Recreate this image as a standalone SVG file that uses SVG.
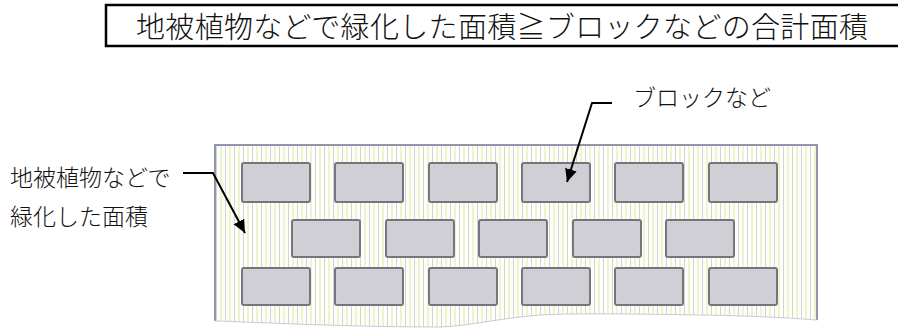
<svg xmlns="http://www.w3.org/2000/svg" width="898" height="329" viewBox="0 0 898 329">
<style>
text{font-family:"Noto Sans CJK JP","Noto Sans CJK SC",sans-serif;fill:#111;font-weight:300;}
.title{font-size:29px;}
.lbl{font-size:23px;}
.blk{fill:#cfcfd5;stroke:#74767e;stroke-width:2;}
.lead{fill:none;stroke:#000;stroke-width:2;}
</style>
<defs>
<pattern id="stripes" patternUnits="userSpaceOnUse" x="216" y="0" width="9" height="10">
<rect width="9" height="10" fill="#fdfef9"/>
<rect x="0" width="1" height="10" fill="#d2d4d6"/>
<rect x="4" width="2" height="10" fill="#eff4cc"/>
</pattern>
<marker id="arr" markerUnits="userSpaceOnUse" markerWidth="16" markerHeight="16" refX="13" refY="6" orient="auto">
<path d="M0,0 L13,6 L0,12 z" fill="#000"/>
</marker>
</defs>
<g id="title">
<rect x="106" y="5" width="800" height="41" fill="#fff" stroke="#000" stroke-width="2.5"/>
<text class="title" x="136" y="38" textLength="732">地被植物などで緑化した面積≧ブロックなどの合計面積</text>
</g>
<g id="panel">
<path d="M215,145 L817,145 L817,320 C790,318 760,316 700,315 C640,314 580,313 540,315 C500,318 470,326 440,327 C380,327 320,325 270,323 C240,322 225,321 215,321 Z" fill="url(#stripes)"/>
<path d="M215,321 L215,145 L817,145 L817,320" fill="none" stroke="#9096ab" stroke-width="2"/>
<path d="M215,321 C225,321 240,322 270,323 C320,325 380,327 440,327 C470,326 500,318 540,315 C580,313 640,314 700,315 C760,316 790,318 817,320" fill="none" stroke="#c8cad6" stroke-width="1"/>
</g>
<g id="blocks">
<rect class="blk" x="242" y="163" width="68" height="39" rx="2"/>
<rect class="blk" x="335" y="163" width="68" height="39" rx="2"/>
<rect class="blk" x="429" y="163" width="68" height="39" rx="2"/>
<rect class="blk" x="522" y="163" width="68" height="39" rx="2"/>
<rect class="blk" x="615" y="163" width="68" height="39" rx="2"/>
<rect class="blk" x="709" y="163" width="68" height="39" rx="2"/>
<rect class="blk" x="292" y="220" width="68" height="37" rx="2"/>
<rect class="blk" x="386" y="220" width="68" height="37" rx="2"/>
<rect class="blk" x="479" y="220" width="68" height="37" rx="2"/>
<rect class="blk" x="573" y="220" width="68" height="37" rx="2"/>
<rect class="blk" x="666" y="220" width="68" height="37" rx="2"/>
<rect class="blk" x="242" y="268" width="68" height="37" rx="2"/>
<rect class="blk" x="335" y="268" width="68" height="37" rx="2"/>
<rect class="blk" x="429" y="268" width="68" height="37" rx="2"/>
<rect class="blk" x="522" y="268" width="68" height="37" rx="2"/>
<rect class="blk" x="615" y="268" width="68" height="37" rx="2"/>
<rect class="blk" x="709" y="268" width="68" height="37" rx="2"/>
</g>
<g id="label-green">
<text class="lbl" x="10" y="186">地被植物などで</text>
<text class="lbl" x="10" y="225">緑化した面積</text>
</g>
<g id="label-block">
<text class="lbl" x="633" y="106">ブロックなど</text>
</g>
<g id="connectors">
<polyline class="lead" points="183,173 213,173 245,233" marker-end="url(#arr)"/>
<polyline class="lead" points="612,103 592,103 567,182" marker-end="url(#arr)"/>
</g>
</svg>
